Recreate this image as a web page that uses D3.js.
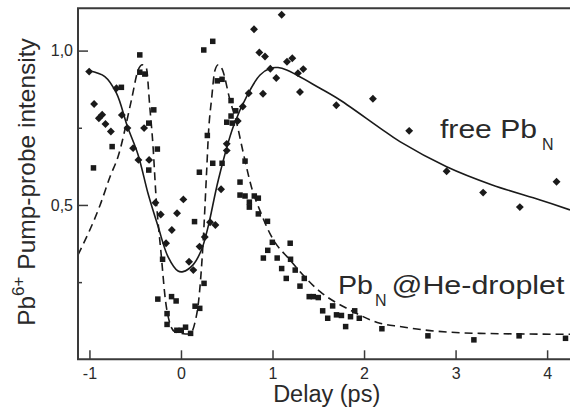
<!DOCTYPE html>
<html>
<head>
<meta charset="utf-8">
<script src="https://cdn.jsdelivr.net/npm/d3@7"></script>
<style>
  html, body { margin: 0; padding: 0; background: #fff; }
  svg { display: block; font-family: "Liberation Sans", Arial, Helvetica, sans-serif; }
</style>
</head>
<body>
<svg id="chart" width="570" height="407"></svg>
<script>
// Free Pb_N clusters: measured points (delay in ps, normalised intensity)
const freeDelay = [-1.003,-0.949,-0.897,-0.861,-0.825,-0.766,-0.705,-0.646,-0.585,-0.523,-0.465,-0.403,-0.348,-0.279,-0.221,-0.163,-0.100,-0.043,0.026,0.088,0.135,0.203,0.260,0.318,0.376,0.438,0.500,0.500,0.620,0.675,0.740,0.798,0.856,0.918,0.896,0.976,1.041,1.100,1.158,1.216,1.278,1.336,1.300,1.697,2.097,2.493,2.902,3.301,3.702,4.103];
const freeIntensity = [0.932,0.827,0.781,0.792,0.762,0.738,0.878,0.791,0.749,0.684,0.646,0.749,0.646,0.507,0.469,0.376,0.419,0.473,0.518,0.316,0.289,0.365,0.396,0.444,0.435,0.551,0.676,0.698,0.772,0.819,0.862,1.069,0.994,0.981,0.860,0.941,0.911,1.116,0.964,0.975,0.927,0.940,0.866,0.823,0.844,0.740,0.609,0.540,0.493,0.575];

// Pb_N embedded in helium droplets: measured points
const dropletDelay = [-0.956,-0.752,-0.651,-0.450,-0.450,-0.395,-0.352,-0.352,-0.297,-0.258,-0.253,-0.201,-0.152,-0.152,-0.103,-0.053,-0.045,0.003,0.050,0.105,0.148,0.154,0.201,0.205,0.249,0.252,0.288,0.347,0.347,0.397,0.449,0.449,0.500,0.547,0.547,0.561,0.598,0.645,0.645,0.700,0.700,0.747,0.747,0.801,0.845,0.845,0.900,0.945,0.948,0.998,1.051,1.100,1.150,1.193,1.197,1.248,1.300,1.347,1.401,1.445,1.500,1.548,1.603,1.657,1.699,1.753,1.799,1.852,1.898,1.948,2.195,2.698,3.200,3.694,4.201];
const dropletIntensity = [0.620,0.689,0.881,0.986,0.930,0.924,0.765,0.613,0.808,0.681,0.195,0.324,0.148,0.113,0.203,0.189,0.094,0.094,0.104,0.084,0.446,0.172,0.606,0.165,1.002,0.246,0.725,1.030,0.635,0.902,0.907,0.635,0.768,0.838,0.788,0.765,0.805,0.574,0.532,0.642,0.529,0.509,0.493,0.529,0.522,0.471,0.328,0.447,0.353,0.379,0.328,0.294,0.262,0.376,0.324,0.289,0.237,0.262,0.203,0.203,0.200,0.157,0.133,0.173,0.144,0.142,0.106,0.138,0.157,0.133,0.099,0.076,0.063,0.076,0.068];

// Fitted curves
const freeFitDelay = [-1.003,-0.832,-0.705,-0.585,-0.468,-0.359,-0.250,-0.141,-0.032,0.023,0.132,0.223,0.296,0.408,0.572,0.736,0.864,0.976,1.060,1.155,1.519,1.737,2.175,2.392,2.902,3.400,3.924,4.250];
const freeFitValues = [0.935,0.916,0.862,0.754,0.662,0.536,0.430,0.332,0.286,0.284,0.306,0.354,0.429,0.581,0.754,0.862,0.921,0.943,0.945,0.937,0.878,0.840,0.749,0.705,0.624,0.565,0.516,0.484];

const dropletFitDelay = [-1.125,-0.883,-0.774,-0.687,-0.541,-0.468,-0.421,-0.378,-0.341,-0.305,-0.275,-0.214,-0.170,-0.122,-0.068,0.000,0.096,0.151,0.194,0.240,0.281,0.300,0.335,0.370,0.408,0.450,0.535,0.609,0.681,0.790,0.845,0.990,1.190,1.520,1.845,2.173,2.392,2.720,3.265,4.250];
const dropletFitValues = [0.338,0.500,0.592,0.657,0.840,0.937,0.954,0.943,0.819,0.689,0.538,0.332,0.192,0.117,0.089,0.084,0.082,0.117,0.192,0.370,0.613,0.730,0.845,0.935,0.954,0.940,0.840,0.765,0.668,0.538,0.495,0.397,0.322,0.219,0.160,0.117,0.106,0.093,0.084,0.081];

// Axis ticks
const xTicks = [-1, 0, 1, 2, 3, 4];
const xTickLabels = ["-1", "0", "1", "2", "3", "4"];
const yMajorTicks = [0.5, 1.0];
const yMajorLabels = ["0,5", "1,0"];
const yMinorTicks = [0.25, 0.75];

const svg = d3.select("#chart");
const plotLeft = 78, plotRight = 570, plotTop = 8.3, plotBottom = 359.3;

const x = d3.scaleLinear().domain([-1.125, 4.25]).range([plotLeft, plotRight]);
const y = d3.scaleLinear().domain([0, 1.137]).range([plotBottom, plotTop]);

const ink = "#1a1a1a";
const axisInk = "#3a3a3a";
const textInk = "#2a2a2a";

// Fit curves
const fitLine = (xs, ys, curve) => d3.line()
  .x((d, i) => x(xs[i]))
  .y((d, i) => y(ys[i]))
  .curve(curve)(xs);

svg.append("path")
  .attr("d", fitLine(dropletFitDelay, dropletFitValues, d3.curveMonotoneX))
  .attr("fill", "none")
  .attr("stroke", ink)
  .attr("stroke-width", 1.6)
  .attr("stroke-dasharray", "8,5");

svg.append("path")
  .attr("d", fitLine(freeFitDelay, freeFitValues, d3.curveCatmullRom.alpha(0.5)))
  .attr("fill", "none")
  .attr("stroke", ink)
  .attr("stroke-width", 1.6);

// Data markers
const diamond = d3.symbol().type(d3.symbolDiamond2).size(30);
svg.append("g").selectAll("path")
  .data(freeDelay)
  .join("path")
  .attr("d", diamond)
  .attr("transform", (d, i) => `translate(${x(d)},${y(freeIntensity[i])}) scale(1.15)`)
  .attr("fill", ink);

const sq = 5.5;
svg.append("g").selectAll("rect")
  .data(dropletDelay)
  .join("rect")
  .attr("x", d => x(d) - sq / 2)
  .attr("y", (d, i) => y(dropletIntensity[i]) - sq / 2)
  .attr("width", sq)
  .attr("height", sq)
  .attr("fill", ink);

// Axes (ticks point inward)
const xAxis = d3.axisBottom(x)
  .tickValues(xTicks)
  .tickFormat((d, i) => xTickLabels[i])
  .tickSizeInner(-9)
  .tickSizeOuter(0)
  .tickPadding(8);
const gx = svg.append("g").attr("transform", `translate(0,${plotBottom})`).call(xAxis);

const yAxis = d3.axisLeft(y)
  .tickValues(yMajorTicks)
  .tickFormat((d, i) => yMajorLabels[i])
  .tickSizeInner(-10)
  .tickSizeOuter(0)
  .tickPadding(5);
const gy = svg.append("g").attr("transform", `translate(${plotLeft},0)`).call(yAxis);

const yMinor = d3.axisLeft(y)
  .tickValues(yMinorTicks)
  .tickFormat("")
  .tickSizeInner(-4)
  .tickSizeOuter(0);
const gyMinor = svg.append("g").attr("transform", `translate(${plotLeft},0)`).call(yMinor);

[gx, gy, gyMinor].forEach(g => {
  g.select(".domain").remove();
  g.selectAll(".tick line").attr("stroke", axisInk).attr("stroke-width", 1.5);
  g.selectAll(".tick text")
    .attr("fill", textInk)
    .style("font-size", "16px")
    .style("font-family", "'Liberation Sans', Arial, sans-serif");
});

// Frame: left, bottom and top lines
svg.append("path")
  .attr("d", `M${plotRight},${plotTop}H${plotLeft}V${plotBottom}H${plotRight}`)
  .attr("fill", "none")
  .attr("stroke", axisInk)
  .attr("stroke-width", 2);

// Axis titles
svg.append("text")
  .attr("x", 326.7)
  .attr("y", 401.5)
  .attr("text-anchor", "middle")
  .attr("fill", textInk)
  .style("font-size", "23.5px")
  .text("Delay (ps)");

const yTitle = svg.append("text")
  .attr("transform", "translate(35,182) rotate(-90)")
  .attr("text-anchor", "middle")
  .attr("fill", textInk)
  .style("font-size", "24.5px");
yTitle.append("tspan").text("Pb");
yTitle.append("tspan").attr("dy", -11).style("font-size", "17px").text("6+");
yTitle.append("tspan").attr("dy", 11).text(" Pump-probe intensity");

// Series labels (wide face: glyphs stretched to the set widths)
const freeLabel = svg.append("text")
  .attr("y", 137.5)
  .attr("fill", textInk)
  .style("font-size", "26px");
freeLabel.append("tspan")
  .attr("x", 440)
  .attr("textLength", 97)
  .attr("lengthAdjust", "spacingAndGlyphs")
  .text("free Pb");
freeLabel.append("tspan")
  .attr("x", 542)
  .attr("dy", 12)
  .style("font-size", "16px")
  .text("N");

const dropLabel = svg.append("text")
  .attr("y", 293.5)
  .attr("fill", textInk)
  .style("font-size", "26px");
dropLabel.append("tspan")
  .attr("x", 338)
  .attr("textLength", 35)
  .attr("lengthAdjust", "spacingAndGlyphs")
  .text("Pb");
dropLabel.append("tspan")
  .attr("x", 375)
  .attr("dy", 12.5)
  .style("font-size", "16px")
  .text("N");
dropLabel.append("tspan")
  .attr("x", 391.5)
  .attr("dy", -12.5)
  .attr("textLength", 173)
  .attr("lengthAdjust", "spacingAndGlyphs")
  .text("@He-droplet");
</script>
</body>
</html>
